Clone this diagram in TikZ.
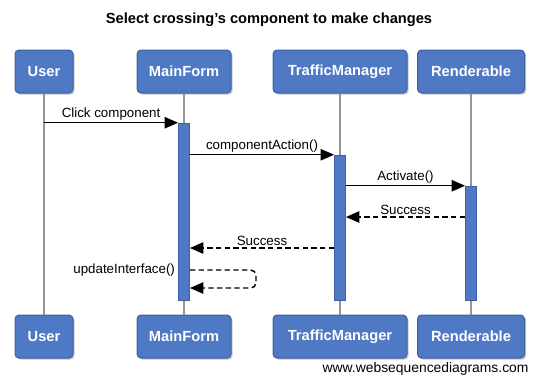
\documentclass[tikz,border=0pt]{standalone}
\usepackage{fontspec}
\setmainfont{Liberation Sans}
\usetikzlibrary{arrows.meta,shadows}

\definecolor{boxblue}{RGB}{79,121,196}
\definecolor{boxedge}{RGB}{62,96,160}
\definecolor{lifegray}{RGB}{150,150,150}

\tikzset{every picture/.style={line width=0.75pt}}
\tikzset{
  actor/.style={draw=boxedge, fill=boxblue, rounded corners=3pt, minimum height=32.25pt,
    inner sep=0pt, text=white, font=\bfseries\fontsize{11}{13}\selectfont,
    drop shadow={shadow xshift=1.2pt, shadow yshift=-1.2pt, opacity=0.45}},
  bar/.style={draw=boxedge, fill=boxblue, line width=0.4pt, minimum width=8.5pt, inner sep=0pt},
  lifeline/.style={draw=lifegray, line width=1.1pt},
  call/.style={line width=1.1pt, -{Triangle[length=10pt,width=8.5pt]}},
  reply/.style={call, dash pattern={on 4pt off 2.5pt}},
  msglabel/.style={font=\fontsize{10}{12}\selectfont, inner sep=1.5pt},
}

\begin{document}
\begin{tikzpicture}[x=0.75pt,y=0.75pt,yscale=-1,xscale=1]
\useasboundingbox (0,0) rectangle (538,383);

% Title
\node[font=\bfseries\fontsize{11}{13}\selectfont] (title) at (269,20) {Select crossing’s component to make changes};

% Participants, top row
\node[actor, minimum width=43.5pt] (userTop) at (44,71.5) {User};
\node[actor, minimum width=70.5pt] (formTop) at (184,71.5) {MainForm};
\node[actor, minimum width=100.5pt] (tmTop) at (340,71.5) {TrafficManager};
\node[actor, minimum width=80.25pt] (rendTop) at (471,71.5) {Renderable};

% Participants, bottom row
\node[actor, minimum width=43.5pt] (userBot) at (44,336.5) {User};
\node[actor, minimum width=70.5pt] (formBot) at (184,336.5) {MainForm};
\node[actor, minimum width=100.5pt] (tmBot) at (340,336.5) {TrafficManager};
\node[actor, minimum width=80.25pt] (rendBot) at (471,336.5) {Renderable};

% Lifelines
\draw[lifeline] (userTop) -- (userBot);
\draw[lifeline] (formTop) -- (formBot);
\draw[lifeline] (tmTop) -- (tmBot);
\draw[lifeline] (rendTop) -- (rendBot);

% Activation bars
\node[bar, minimum height=132.75pt] (formBar) at (184,211.5) {};
\node[bar, minimum height=108.75pt] (tmBar) at (340,227.5) {};
\node[bar, minimum height=85.5pt] (rendBar) at (471,243) {};

% Messages
\draw[call] (userTop |- formBar.north) -- node[msglabel, above] {Click component} (formBar.north west);
\draw[call] (formBar.east |- tmBar.north) -- node[msglabel, above] {componentAction()} (tmBar.north west);
\draw[call] (tmBar.east |- rendBar.north) -- node[msglabel, above] {Activate()} (rendBar.north west);

% Replies
\coordinate (ok1) at (0,217);
\coordinate (ok2) at (0,248);
\draw[reply] (rendBar.west |- ok1) -- node[msglabel, above] {Success} (tmBar.east |- ok1);
\draw[reply] (tmBar.west |- ok2) -- node[msglabel, above] {Success} (formBar.east |- ok2);

% Self call
\coordinate (updTop) at (256,270);
\coordinate (updBot) at (256,288);
\draw[reply, rounded corners=4pt] (formBar.east |- updTop) -- (updTop) -- (updBot) -- (formBar.east |- updBot);
\node[msglabel, anchor=east] (updLabel) at ([xshift=-0.5pt]formBar.west |- updTop) {updateInterface()};

% Footer
\node[font=\fontsize{10.4}{12}\selectfont, anchor=east, inner sep=0pt] (footer) at (529,369) {www.websequencediagrams.com};
\end{tikzpicture}
\end{document}
